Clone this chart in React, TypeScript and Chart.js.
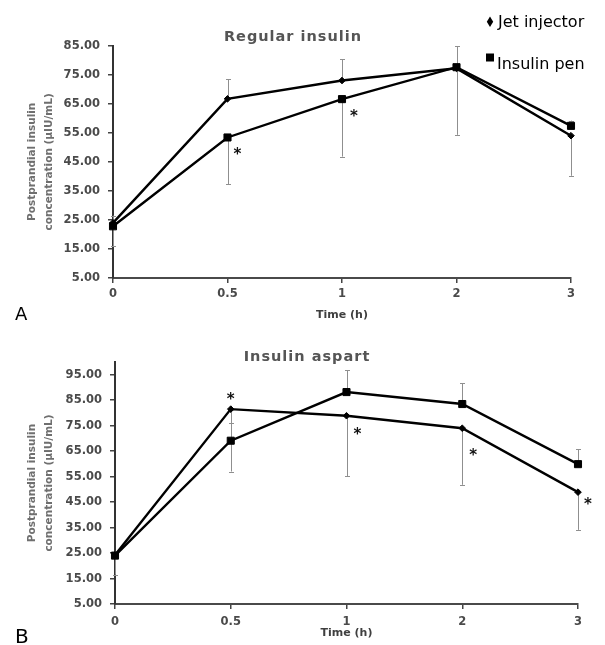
import React, { useEffect, useRef } from 'react';
import { Chart, registerables } from 'chart.js';

Chart.register(...registerables);

// ---------- data ----------
const categories = ['0', '0.5', '1', '2', '3'];
const yTicksA = [5, 15, 25, 35, 45, 55, 65, 75, 85];
const yTicksB = [5, 15, 25, 35, 45, 55, 65, 75, 85, 95];

const jetA = [24.0, 66.7, 73.0, 77.2, 54.0];
const penA = [22.8, 53.4, 66.6, 77.6, 57.4];
const jetErrEndA = [26.5, 73.4, 80.4, 84.9, 40.2];
const penErrEndA = [16.0, 37.3, 46.8, 54.3, 59.2];
const starIndexA = [1, 2];
const starValueA = [48.9, 62.0];

const jetB = [24.2, 81.5, 78.9, 74.0, 48.9];
const penB = [24.0, 69.1, 88.2, 83.5, 59.9];
const jetErrEndB = [16.5, 57.0, 55.2, 51.8, 34.1];
const penErrEndB = [25.5, 76.0, 96.8, 91.7, 65.8];
const starIndexB = [1, 2, 3, 4];
const starValueB = [87.1, 73.4, 64.9, 45.9];

// ---------- styles ----------
const FONT = "'DejaVu Sans', 'Liberation Sans', sans-serif";

type PanelCfg = {
  title: string;
  titleX: number;
  titleBaseline: number;
  letter: string;
  letterSize: number;
  letterBaseline: number;
  jet: number[];
  pen: number[];
  jetErr: number[];
  penErr: number[];
  starIdx: number[];
  starVal: number[];
  starDx: number[];
  ticks: number[];
  min: number;
  max: number;
  height: number;
  padTop: number;
  padRight: number;
  yAxisWidth: number;
  xAxisHeight: number;
  xTitlePadBottom: number;
  xTickPad: number;
  legend: boolean;
};

function makeDecor(cfg: PanelCfg) {
  return {
    id: 'decor',
    beforeDatasetsDraw(chart: any) {
      const { ctx } = chart;
      const ys = chart.scales.y;
      ctx.save();
      ctx.strokeStyle = '#8f8f8f';
      ctx.lineWidth = 1;
      const groups = [
        { ds: 0, ends: cfg.penErr },
        { ds: 1, ends: cfg.jetErr },
      ];
      for (const g of groups) {
        const meta = chart.getDatasetMeta(g.ds);
        g.ends.forEach((v: number, i: number) => {
          const p = meta.data[i];
          if (!p) return;
          const x = Math.round(p.x) + 0.5;
          const y1 = ys.getPixelForValue(v);
          ctx.beginPath();
          ctx.moveTo(x, p.y);
          ctx.lineTo(x, y1);
          ctx.moveTo(x - 2.5, Math.round(y1) + 0.5);
          ctx.lineTo(x + 2.5, Math.round(y1) + 0.5);
          ctx.stroke();
        });
      }
      ctx.restore();
    },
    afterDraw(chart: any) {
      const { ctx } = chart;
      const xs = chart.scales.x;
      const ys = chart.scales.y;
      ctx.save();
      // title
      ctx.fillStyle = '#555555';
      ctx.font = `bold 14.5px ${FONT}`;
      (ctx as any).letterSpacing = '1px';
      ctx.textAlign = 'center';
      ctx.textBaseline = 'alphabetic';
      ctx.fillText(cfg.title, cfg.titleX, cfg.titleBaseline);
      (ctx as any).letterSpacing = '0px';

      // asterisks
      ctx.fillStyle = '#111111';
      ctx.font = `bold 15px ${FONT}`;
      ctx.textAlign = 'center';
      cfg.starIdx.forEach((idx, k) => {
        const x = xs.getPixelForValue(idx) + cfg.starDx[k];
        const y = ys.getPixelForValue(cfg.starVal[k]);
        ctx.fillText('*', x, y + 0.59 * 15);
      });

      // panel letter
      ctx.fillStyle = '#000000';
      ctx.font = `${cfg.letterSize}px ${FONT}`;
      ctx.textAlign = 'left';
      ctx.fillText(cfg.letter, 15, cfg.letterBaseline);

      // legend
      if (cfg.legend) {
        ctx.fillStyle = '#000000';
        ctx.beginPath();
        ctx.moveTo(490, 16.5);
        ctx.lineTo(493.2, 21.7);
        ctx.lineTo(490, 26.9);
        ctx.lineTo(486.8, 21.7);
        ctx.closePath();
        ctx.fill();
        ctx.fillRect(486, 53.5, 8, 8);
        ctx.font = `16px ${FONT}`;
        ctx.textAlign = 'left';
        ctx.fillText('Jet injector', 498, 27);
        ctx.fillText('Insulin pen', 497, 69);
      }
      ctx.restore();
    },
  };
}

function Panel({ cfg }: { cfg: PanelCfg }) {
  const ref = useRef<HTMLCanvasElement>(null);
  useEffect(() => {
    const canvas = ref.current;
    if (!canvas) return;
    const tickFont = { family: FONT, size: 11.5, weight: 'bold' as const };
    const chart = new Chart(canvas, {
      type: 'line',
      data: {
        labels: categories,
        datasets: [
          {
            label: 'Insulin pen',
            data: cfg.pen,
            borderColor: '#000000',
            backgroundColor: '#000000',
            borderWidth: 2.4,
            pointStyle: 'rect',
            pointRadius: 5,
            pointBorderWidth: 1,
            tension: 0,
          },
          {
            label: 'Jet injector',
            data: cfg.jet,
            borderColor: '#000000',
            backgroundColor: '#000000',
            borderWidth: 2.4,
            pointStyle: 'rectRot',
            pointRadius: 3.3,
            pointBorderWidth: 1,
            tension: 0,
          },
        ],
      },
      options: {
        animation: false,
        responsive: false,
        devicePixelRatio: 1,
        events: [],
        layout: { padding: { top: cfg.padTop, right: cfg.padRight, left: 0, bottom: 0 } },
        plugins: {
          legend: { display: false },
          tooltip: { enabled: false },
          title: { display: false },
        },
        scales: {
          x: {
            type: 'category',
            offset: false,
            grid: {
              display: true,
              drawOnChartArea: false,
              drawTicks: true,
              tickLength: 5,
              color: '#444444',
              lineWidth: 1.5,
            },
            border: { display: true, color: '#4a4a4a', width: 2 },
            ticks: {
              color: '#4a4a4a',
              font: tickFont,
              padding: cfg.xTickPad,
              maxRotation: 0,
              autoSkip: false,
            },
            title: {
              display: true,
              text: 'Time (h)',
              color: '#3f3f3f',
              font: { family: FONT, size: 11, weight: 'bold' },
              padding: { top: 0, bottom: cfg.xTitlePadBottom },
            },
            afterFit: (s: any) => {
              s.height = cfg.xAxisHeight;
            },
          },
          y: {
            type: 'linear',
            min: cfg.min,
            max: cfg.max,
            afterBuildTicks: (s: any) => {
              s.ticks = cfg.ticks.map((v) => ({ value: v }));
            },
            grid: {
              display: true,
              drawOnChartArea: false,
              drawTicks: true,
              tickLength: 5,
              color: '#444444',
              lineWidth: 1.5,
            },
            border: { display: true, color: '#333333', width: 2 },
            ticks: {
              color: '#4a4a4a',
              font: tickFont,
              padding: 8,
              callback: (v: any) => Number(v).toFixed(2),
            },
            title: {
              display: true,
              text: ['Postprandial insulin', 'concentration (µIU/mL)'],
              color: '#6f6f6f',
              font: { family: FONT, size: 10.5, weight: 'bold', lineHeight: '17px' },
              padding: { top: 23.5, bottom: 0 },
            },
            afterFit: (s: any) => {
              s.width = cfg.yAxisWidth;
            },
          },
        },
      },
      plugins: [makeDecor(cfg) as any],
    });
    return () => chart.destroy();
  }, [cfg]);
  return (
    <canvas
      ref={ref}
      width={605}
      height={cfg.height}
      style={{ display: 'block', width: 605, height: cfg.height }}
    />
  );
}

const cfgA: PanelCfg = {
  title: 'Regular insulin',
  titleX: 293,
  titleBaseline: 41,
  letter: 'A',
  letterSize: 18,
  letterBaseline: 320,
  jet: jetA,
  pen: penA,
  jetErr: jetErrEndA,
  penErr: penErrEndA,
  starIdx: starIndexA,
  starVal: starValueA,
  starDx: [10, 12],
  ticks: yTicksA,
  min: 5,
  max: 85,
  height: 322,
  padTop: 45.7,
  padRight: 34,
  yAxisWidth: 113,
  xAxisHeight: 44,
  xTitlePadBottom: 0,
  xTickPad: 4,
  legend: true,
};

const cfgB: PanelCfg = {
  title: 'Insulin aspart',
  titleX: 307,
  titleBaseline: 39,
  letter: 'B',
  letterSize: 20,
  letterBaseline: 321,
  jet: jetB,
  pen: penB,
  jetErr: jetErrEndB,
  penErr: penErrEndB,
  starIdx: starIndexB,
  starVal: starValueB,
  starDx: [0, 11, 11, 10],
  ticks: yTicksB,
  min: 5,
  max: 100,
  height: 323,
  padTop: 40,
  padRight: 27,
  yAxisWidth: 115,
  xAxisHeight: 41,
  xTitlePadBottom: 5,
  xTickPad: 6,
  legend: false,
};

export default function App() {
  return (
    <div style={{ position: 'absolute', left: 0, top: 0, width: 605, height: 645, background: '#ffffff' }}>
      <Panel cfg={cfgA} />
      <Panel cfg={cfgB} />
    </div>
  );
}
